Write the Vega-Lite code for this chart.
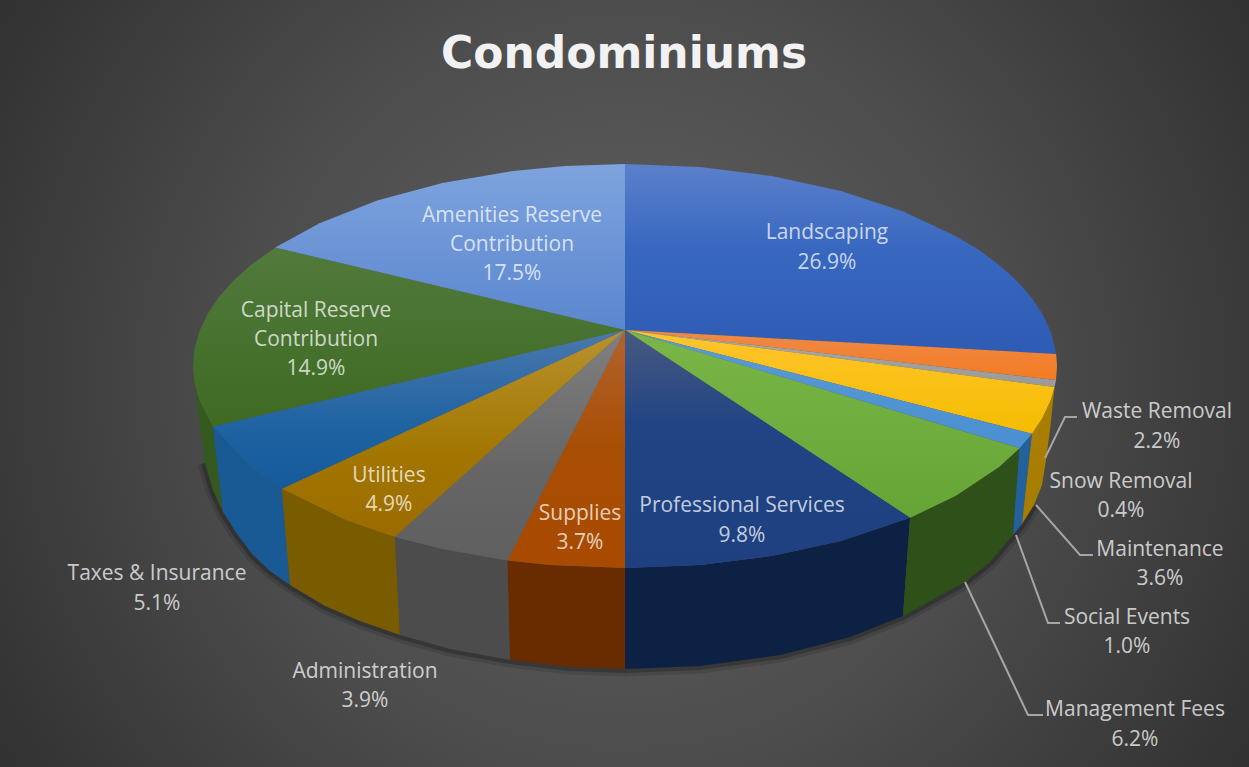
{
  "$schema": "https://vega.github.io/schema/vega-lite/v6.json",
  "width": 1249,
  "height": 767,
  "padding": 0,
  "autosize": {"type": "fit", "contains": "padding"},
  "background": "#2b2b2b",
  "config": {"view": {"stroke": null}, "font": "Open Sans"},
  "datasets": {
    "backdrop": [{"x": 0, "x2": 1249, "y": 0, "y2": 767}],
    "topFace": [
      {"slice":"Landscaping","i":0,"x":625,"y":330},{"slice":"Landscaping","i":1,"x":625,"y":164},{"slice":"Landscaping","i":2,"x":700,"y":167.1},{"slice":"Landscaping","i":3,"x":772.7,"y":176.2},{"slice":"Landscaping","i":4,"x":841,"y":191.1},{"slice":"Landscaping","i":5,"x":902.7,"y":211.3},{"slice":"Landscaping","i":6,"x":955.9,"y":236.2},{"slice":"Landscaping","i":7,"x":978.9,"y":250.1},{"slice":"Landscaping","i":8,"x":999.1,"y":265},{"slice":"Landscaping","i":9,"x":1016.5,"y":280.6},{"slice":"Landscaping","i":10,"x":1031,"y":296.9},{"slice":"Landscaping","i":11,"x":1042.3,"y":313.7},{"slice":"Landscaping","i":12,"x":1050.4,"y":330.9},{"slice":"Landscaping","i":13,"x":1056.2,"y":354},
      {"slice":"Waste Removal","i":0,"x":625,"y":330},{"slice":"Waste Removal","i":1,"x":1056.2,"y":354},{"slice":"Waste Removal","i":2,"x":1057,"y":366},{"slice":"Waste Removal","i":3,"x":1056,"y":380.1},
      {"slice":"Snow Removal","i":0,"x":625,"y":330},{"slice":"Snow Removal","i":1,"x":1056,"y":380.1},{"slice":"Snow Removal","i":2,"x":1054.6,"y":387.1},
      {"slice":"Maintenance","i":0,"x":625,"y":330},{"slice":"Maintenance","i":1,"x":1054.6,"y":387.1},{"slice":"Maintenance","i":2,"x":1050.4,"y":401.1},{"slice":"Maintenance","i":3,"x":1042.3,"y":418.3},{"slice":"Maintenance","i":4,"x":1032,"y":433.8},
      {"slice":"Social Events","i":0,"x":625,"y":330},{"slice":"Social Events","i":1,"x":1032,"y":433.8},{"slice":"Social Events","i":2,"x":1019.6,"y":448.2},
      {"slice":"Management Fees","i":0,"x":625,"y":330},{"slice":"Management Fees","i":1,"x":1019.6,"y":448.2},{"slice":"Management Fees","i":2,"x":999.1,"y":467},{"slice":"Management Fees","i":3,"x":955.9,"y":495.8},{"slice":"Management Fees","i":4,"x":910.1,"y":517.8},
      {"slice":"Professional Services","i":0,"x":625,"y":330},{"slice":"Professional Services","i":1,"x":910.1,"y":517.8},{"slice":"Professional Services","i":2,"x":841,"y":540.9},{"slice":"Professional Services","i":3,"x":772.7,"y":555.8},{"slice":"Professional Services","i":4,"x":700,"y":564.9},{"slice":"Professional Services","i":5,"x":625,"y":568},
      {"slice":"Supplies","i":0,"x":625,"y":330},{"slice":"Supplies","i":1,"x":625,"y":568},{"slice":"Supplies","i":2,"x":550,"y":564.9},{"slice":"Supplies","i":3,"x":507.4,"y":560.4},
      {"slice":"Administration","i":0,"x":625,"y":330},{"slice":"Administration","i":1,"x":507.4,"y":560.4},{"slice":"Administration","i":2,"x":442.4,"y":549.1},{"slice":"Administration","i":3,"x":394.8,"y":536.9},
      {"slice":"Utilities","i":0,"x":625,"y":330},{"slice":"Utilities","i":1,"x":394.8,"y":536.9},{"slice":"Utilities","i":2,"x":347.3,"y":520.7},{"slice":"Utilities","i":3,"x":281.8,"y":488.7},
      {"slice":"Taxes & Insurance","i":0,"x":625,"y":330},{"slice":"Taxes & Insurance","i":1,"x":281.8,"y":488.7},{"slice":"Taxes & Insurance","i":2,"x":250.9,"y":467},{"slice":"Taxes & Insurance","i":3,"x":212.8,"y":426.4},
      {"slice":"Capital Reserve Contribution","i":0,"x":625,"y":330},{"slice":"Capital Reserve Contribution","i":1,"x":212.8,"y":426.4},{"slice":"Capital Reserve Contribution","i":2,"x":199.6,"y":401.1},{"slice":"Capital Reserve Contribution","i":3,"x":194.6,"y":383.6},{"slice":"Capital Reserve Contribution","i":4,"x":193,"y":366},{"slice":"Capital Reserve Contribution","i":5,"x":194.6,"y":348.4},{"slice":"Capital Reserve Contribution","i":6,"x":199.6,"y":330.9},{"slice":"Capital Reserve Contribution","i":7,"x":207.7,"y":313.7},{"slice":"Capital Reserve Contribution","i":8,"x":219,"y":296.9},{"slice":"Capital Reserve Contribution","i":9,"x":233.5,"y":280.6},{"slice":"Capital Reserve Contribution","i":10,"x":250.9,"y":265},{"slice":"Capital Reserve Contribution","i":11,"x":275.2,"y":247.5},
      {"slice":"Amenities Reserve Contribution","i":0,"x":625,"y":330},{"slice":"Amenities Reserve Contribution","i":1,"x":275.2,"y":247.5},{"slice":"Amenities Reserve Contribution","i":2,"x":319.5,"y":223.2},{"slice":"Amenities Reserve Contribution","i":3,"x":377.2,"y":200.5},{"slice":"Amenities Reserve Contribution","i":4,"x":442.4,"y":182.9},{"slice":"Amenities Reserve Contribution","i":5,"x":513.2,"y":170.9},{"slice":"Amenities Reserve Contribution","i":6,"x":564.9,"y":166},{"slice":"Amenities Reserve Contribution","i":7,"x":625,"y":164}
    ],
    "sideWall": [
      {"slice":"Capital Reserve Contribution","i":0,"x":193,"y":360},{"slice":"Capital Reserve Contribution","i":1,"x":194.6,"y":383.6},{"slice":"Capital Reserve Contribution","i":2,"x":199.6,"y":401.1},{"slice":"Capital Reserve Contribution","i":3,"x":212.8,"y":426.4},{"slice":"Capital Reserve Contribution","i":4,"x":223,"y":512},{"slice":"Capital Reserve Contribution","i":5,"x":213,"y":490},{"slice":"Capital Reserve Contribution","i":6,"x":205,"y":463},{"slice":"Capital Reserve Contribution","i":7,"x":198,"y":413},{"slice":"Capital Reserve Contribution","i":8,"x":195,"y":373},
      {"slice":"Taxes & Insurance","i":0,"x":212.8,"y":426.4},{"slice":"Taxes & Insurance","i":1,"x":250.9,"y":467},{"slice":"Taxes & Insurance","i":2,"x":281.8,"y":488.7},{"slice":"Taxes & Insurance","i":3,"x":290,"y":585},{"slice":"Taxes & Insurance","i":4,"x":270,"y":571},{"slice":"Taxes & Insurance","i":5,"x":253,"y":555},{"slice":"Taxes & Insurance","i":6,"x":237,"y":534},{"slice":"Taxes & Insurance","i":7,"x":223,"y":512},
      {"slice":"Utilities","i":0,"x":281.8,"y":488.7},{"slice":"Utilities","i":1,"x":347.3,"y":520.7},{"slice":"Utilities","i":2,"x":394.8,"y":536.9},{"slice":"Utilities","i":3,"x":400,"y":635},{"slice":"Utilities","i":4,"x":360,"y":621},{"slice":"Utilities","i":5,"x":325,"y":606},{"slice":"Utilities","i":6,"x":290,"y":585},
      {"slice":"Administration","i":0,"x":394.8,"y":536.9},{"slice":"Administration","i":1,"x":442.4,"y":549.1},{"slice":"Administration","i":2,"x":507.4,"y":560.4},{"slice":"Administration","i":3,"x":510,"y":660},{"slice":"Administration","i":4,"x":450,"y":649},{"slice":"Administration","i":5,"x":400,"y":635},
      {"slice":"Supplies","i":0,"x":507.4,"y":560.4},{"slice":"Supplies","i":1,"x":550,"y":564.9},{"slice":"Supplies","i":2,"x":625,"y":568},{"slice":"Supplies","i":3,"x":625,"y":669},{"slice":"Supplies","i":4,"x":570,"y":667},{"slice":"Supplies","i":5,"x":510,"y":660},
      {"slice":"Professional Services","i":0,"x":625,"y":568},{"slice":"Professional Services","i":1,"x":700,"y":564.9},{"slice":"Professional Services","i":2,"x":772.7,"y":555.8},{"slice":"Professional Services","i":3,"x":841,"y":540.9},{"slice":"Professional Services","i":4,"x":910.1,"y":517.8},{"slice":"Professional Services","i":5,"x":903,"y":616},{"slice":"Professional Services","i":6,"x":850,"y":637},{"slice":"Professional Services","i":7,"x":780,"y":655},{"slice":"Professional Services","i":8,"x":700,"y":666},{"slice":"Professional Services","i":9,"x":625,"y":669},
      {"slice":"Management Fees","i":0,"x":910.1,"y":517.8},{"slice":"Management Fees","i":1,"x":955.9,"y":495.8},{"slice":"Management Fees","i":2,"x":999.1,"y":467},{"slice":"Management Fees","i":3,"x":1019.6,"y":448.2},{"slice":"Management Fees","i":4,"x":1013,"y":535},{"slice":"Management Fees","i":5,"x":990,"y":562},{"slice":"Management Fees","i":6,"x":965,"y":582},{"slice":"Management Fees","i":7,"x":903,"y":616},
      {"slice":"Social Events","i":0,"x":1019.6,"y":448.2},{"slice":"Social Events","i":1,"x":1032,"y":433.8},{"slice":"Social Events","i":2,"x":1022,"y":524},{"slice":"Social Events","i":3,"x":1013,"y":535},
      {"slice":"Maintenance","i":0,"x":1032,"y":433.8},{"slice":"Maintenance","i":1,"x":1042.3,"y":418.3},{"slice":"Maintenance","i":2,"x":1050.4,"y":401.1},{"slice":"Maintenance","i":3,"x":1054.6,"y":387.1},{"slice":"Maintenance","i":4,"x":1050,"y":430},{"slice":"Maintenance","i":5,"x":1046,"y":460},{"slice":"Maintenance","i":6,"x":1042,"y":485},{"slice":"Maintenance","i":7,"x":1034,"y":505},{"slice":"Maintenance","i":8,"x":1022,"y":524}
    ],
    "lowerEdge": [
      {"i":2,"x":205,"y":463},{"i":3,"x":213,"y":490},{"i":4,"x":223,"y":512},{"i":5,"x":237,"y":534},{"i":6,"x":253,"y":555},{"i":7,"x":270,"y":571},{"i":8,"x":290,"y":585},{"i":9,"x":325,"y":606},{"i":10,"x":360,"y":621},{"i":11,"x":400,"y":635},{"i":12,"x":450,"y":649},{"i":13,"x":510,"y":660},{"i":14,"x":570,"y":667},{"i":15,"x":625,"y":669},{"i":16,"x":700,"y":666},{"i":17,"x":780,"y":655},{"i":18,"x":850,"y":637},{"i":19,"x":903,"y":616},{"i":20,"x":965,"y":582},{"i":21,"x":990,"y":562},{"i":22,"x":1013,"y":535},{"i":23,"x":1022,"y":524},{"i":24,"x":1034,"y":505}
    ],
    "leaders": [
      {"slice":"Waste Removal","i":0,"x":1045,"y":458},{"slice":"Waste Removal","i":1,"x":1065,"y":417},{"slice":"Waste Removal","i":2,"x":1077,"y":417},
      {"slice":"Maintenance","i":0,"x":1036,"y":505},{"slice":"Maintenance","i":1,"x":1080,"y":555},{"slice":"Maintenance","i":2,"x":1093,"y":555},
      {"slice":"Social Events","i":0,"x":1016,"y":535},{"slice":"Social Events","i":1,"x":1048,"y":623},{"slice":"Social Events","i":2,"x":1060,"y":623},
      {"slice":"Management Fees","i":0,"x":965,"y":582},{"slice":"Management Fees","i":1,"x":1028,"y":715},{"slice":"Management Fees","i":2,"x":1043,"y":715}
    ],
    "sliceNames": [
      {"line":"Landscaping","x":827,"y":233},
      {"line":"Amenities Reserve","x":512,"y":216},{"line":"Contribution","x":512,"y":245},
      {"line":"Capital Reserve","x":316,"y":311},{"line":"Contribution","x":316,"y":340},
      {"line":"Utilities","x":389,"y":476},
      {"line":"Supplies","x":580,"y":514},
      {"line":"Professional Services","x":742,"y":506},
      {"line":"Taxes & Insurance","x":157,"y":574},
      {"line":"Administration","x":365,"y":672},
      {"line":"Waste Removal","x":1157,"y":412},
      {"line":"Snow Removal","x":1121,"y":482},
      {"line":"Maintenance","x":1160,"y":550},
      {"line":"Social Events","x":1127,"y":618},
      {"line":"Management Fees","x":1135,"y":710}
    ],
    "sliceShares": [
      {"slice":"Landscaping","share":0.269,"x":827,"y":263},
      {"slice":"Waste Removal","share":0.022,"x":1157,"y":442},
      {"slice":"Snow Removal","share":0.004,"x":1121,"y":511},
      {"slice":"Maintenance","share":0.036,"x":1160,"y":579},
      {"slice":"Social Events","share":0.010,"x":1127,"y":647},
      {"slice":"Management Fees","share":0.062,"x":1135,"y":740},
      {"slice":"Professional Services","share":0.098,"x":742,"y":536},
      {"slice":"Supplies","share":0.037,"x":580,"y":543},
      {"slice":"Administration","share":0.039,"x":365,"y":701},
      {"slice":"Utilities","share":0.049,"x":389,"y":505},
      {"slice":"Taxes & Insurance","share":0.051,"x":157,"y":604},
      {"slice":"Capital Reserve Contribution","share":0.149,"x":316,"y":369},
      {"slice":"Amenities Reserve Contribution","share":0.175,"x":512,"y":274}
    ],
    "chartTitle": [{"title":"Condominiums","x":624,"y":55}]
  },
  "encoding": {
    "x": {"field": "x", "type": "quantitative", "axis": null, "scale": {"domain": [0, 1249], "nice": false, "zero": false}},
    "y": {"field": "y", "type": "quantitative", "axis": null, "scale": {"domain": [767, 0], "nice": false, "zero": false}}
  },
  "layer": [
    {
      "data": {"name": "backdrop"},
      "mark": {"type": "rect", "fill": {"gradient": "radial", "x1": 0.5, "y1": 0.5, "r1": 0, "x2": 0.5, "y2": 0.5, "r2": 0.7, "stops": [{"offset": 0, "color": "#626262"}, {"offset": 0.45, "color": "#4c4c4c"}, {"offset": 1, "color": "#262626"}]}},
      "encoding": {"x2": {"field": "x2"}, "y2": {"field": "y2"}}
    },
    {
      "data": {"name": "lowerEdge"},
      "mark": {"type": "line", "stroke": "#000000", "strokeWidth": 15, "opacity": 0.12},
      "encoding": {"order": {"field": "i"}}
    },
    {
      "data": {"name": "lowerEdge"},
      "mark": {"type": "line", "stroke": "#000000", "strokeWidth": 8, "opacity": 0.22},
      "encoding": {"order": {"field": "i"}}
    },
    {
      "data": {"name": "sideWall"},
      "mark": {"type": "line", "filled": true, "strokeWidth": 0},
      "encoding": {
        "order": {"field": "i"},
        "fill": {"field": "slice", "type": "nominal", "legend": null, "scale": {
          "domain": ["Capital Reserve Contribution", "Taxes & Insurance", "Utilities", "Administration", "Supplies", "Professional Services", "Management Fees", "Social Events", "Maintenance"],
          "range": ["#345a1f", "#1a5a94", "#7a5c00", "#4c4c4c", "#692b00", "#0d2144", "#2e5019", "#22619c", "#a87e00"]
        }}
      }
    },
    {"data": {"name": "topFace"}, "transform": [{"filter": {"field": "slice", "equal": "Landscaping"}}], "mark": {"type": "line", "filled": true, "strokeWidth": 0, "fill": {"gradient": "linear", "x1": 0, "y1": 0, "x2": 0, "y2": 1, "stops": [{"offset": 0, "color": "#5b80cb"}, {"offset": 0.45, "color": "#3867c0"}, {"offset": 1, "color": "#2e5cb5"}]}}, "encoding": {"order": {"field": "i"}}},
    {"data": {"name": "topFace"}, "transform": [{"filter": {"field": "slice", "equal": "Waste Removal"}}], "mark": {"type": "line", "filled": true, "strokeWidth": 0, "fill": {"gradient": "linear", "x1": 0, "y1": 0, "x2": 0, "y2": 1, "stops": [{"offset": 0, "color": "#ee8a48"}, {"offset": 1, "color": "#f47b22"}]}}, "encoding": {"order": {"field": "i"}}},
    {"data": {"name": "topFace"}, "transform": [{"filter": {"field": "slice", "equal": "Snow Removal"}}], "mark": {"type": "line", "filled": true, "strokeWidth": 0, "fill": {"gradient": "linear", "x1": 0, "y1": 0, "x2": 0, "y2": 1, "stops": [{"offset": 0, "color": "#a9a9a9"}, {"offset": 1, "color": "#9a9a9a"}]}}, "encoding": {"order": {"field": "i"}}},
    {"data": {"name": "topFace"}, "transform": [{"filter": {"field": "slice", "equal": "Maintenance"}}], "mark": {"type": "line", "filled": true, "strokeWidth": 0, "fill": {"gradient": "linear", "x1": 0, "y1": 0, "x2": 0, "y2": 1, "stops": [{"offset": 0, "color": "#ffc52e"}, {"offset": 1, "color": "#f5bc00"}]}}, "encoding": {"order": {"field": "i"}}},
    {"data": {"name": "topFace"}, "transform": [{"filter": {"field": "slice", "equal": "Social Events"}}], "mark": {"type": "line", "filled": true, "strokeWidth": 0, "fill": {"gradient": "linear", "x1": 0, "y1": 0, "x2": 0, "y2": 1, "stops": [{"offset": 0, "color": "#5b9bd5"}, {"offset": 1, "color": "#4a8fd0"}]}}, "encoding": {"order": {"field": "i"}}},
    {"data": {"name": "topFace"}, "transform": [{"filter": {"field": "slice", "equal": "Management Fees"}}], "mark": {"type": "line", "filled": true, "strokeWidth": 0, "fill": {"gradient": "linear", "x1": 0, "y1": 0, "x2": 0, "y2": 1, "stops": [{"offset": 0, "color": "#7ab648"}, {"offset": 1, "color": "#65a535"}]}}, "encoding": {"order": {"field": "i"}}},
    {"data": {"name": "topFace"}, "transform": [{"filter": {"field": "slice", "equal": "Professional Services"}}], "mark": {"type": "line", "filled": true, "strokeWidth": 0, "fill": {"gradient": "linear", "x1": 0, "y1": 0, "x2": 0, "y2": 1, "stops": [{"offset": 0, "color": "#485980"}, {"offset": 0.4, "color": "#204484"}, {"offset": 1, "color": "#1e4080"}]}}, "encoding": {"order": {"field": "i"}}},
    {"data": {"name": "topFace"}, "transform": [{"filter": {"field": "slice", "equal": "Supplies"}}], "mark": {"type": "line", "filled": true, "strokeWidth": 0, "fill": {"gradient": "linear", "x1": 0, "y1": 0, "x2": 0, "y2": 1, "stops": [{"offset": 0, "color": "#b3622e"}, {"offset": 0.5, "color": "#a84e04"}, {"offset": 1, "color": "#a84a00"}]}}, "encoding": {"order": {"field": "i"}}},
    {"data": {"name": "topFace"}, "transform": [{"filter": {"field": "slice", "equal": "Administration"}}], "mark": {"type": "line", "filled": true, "strokeWidth": 0, "fill": {"gradient": "linear", "x1": 0, "y1": 0, "x2": 0, "y2": 1, "stops": [{"offset": 0, "color": "#808080"}, {"offset": 0.6, "color": "#666666"}, {"offset": 1, "color": "#5f5f5f"}]}}, "encoding": {"order": {"field": "i"}}},
    {"data": {"name": "topFace"}, "transform": [{"filter": {"field": "slice", "equal": "Utilities"}}], "mark": {"type": "line", "filled": true, "strokeWidth": 0, "fill": {"gradient": "linear", "x1": 0, "y1": 0, "x2": 0, "y2": 1, "stops": [{"offset": 0, "color": "#b8922e"}, {"offset": 0.6, "color": "#a27600"}, {"offset": 1, "color": "#9a6c00"}]}}, "encoding": {"order": {"field": "i"}}},
    {"data": {"name": "topFace"}, "transform": [{"filter": {"field": "slice", "equal": "Taxes & Insurance"}}], "mark": {"type": "line", "filled": true, "strokeWidth": 0, "fill": {"gradient": "linear", "x1": 0, "y1": 0, "x2": 0, "y2": 1, "stops": [{"offset": 0, "color": "#4a78ad"}, {"offset": 0.6, "color": "#1f63a2"}, {"offset": 1, "color": "#155a9c"}]}}, "encoding": {"order": {"field": "i"}}},
    {"data": {"name": "topFace"}, "transform": [{"filter": {"field": "slice", "equal": "Capital Reserve Contribution"}}], "mark": {"type": "line", "filled": true, "strokeWidth": 0, "fill": {"gradient": "linear", "x1": 0, "y1": 0, "x2": 0, "y2": 1, "stops": [{"offset": 0, "color": "#517a3c"}, {"offset": 1, "color": "#3e6a22"}]}}, "encoding": {"order": {"field": "i"}}},
    {"data": {"name": "topFace"}, "transform": [{"filter": {"field": "slice", "equal": "Amenities Reserve Contribution"}}], "mark": {"type": "line", "filled": true, "strokeWidth": 0, "fill": {"gradient": "linear", "x1": 0, "y1": 0, "x2": 0, "y2": 1, "stops": [{"offset": 0, "color": "#7ea3de"}, {"offset": 1, "color": "#5b87cf"}]}}, "encoding": {"order": {"field": "i"}}},
    {
      "data": {"name": "leaders"},
      "mark": {"type": "line", "stroke": "#a6a6a6", "strokeWidth": 2},
      "encoding": {"order": {"field": "i"}, "detail": {"field": "slice"}}
    },
    {
      "data": {"name": "sliceNames"},
      "mark": {"type": "text", "fontSize": 21, "align": "center", "baseline": "middle", "fill": "#ffffff", "fillOpacity": 0.74, "font": "Open Sans"},
      "encoding": {"text": {"field": "line"}}
    },
    {
      "data": {"name": "sliceShares"},
      "mark": {"type": "text", "fontSize": 21, "align": "center", "baseline": "middle", "fill": "#ffffff", "fillOpacity": 0.74, "font": "Open Sans"},
      "encoding": {"text": {"field": "share", "format": ".1%"}}
    },
    {
      "data": {"name": "chartTitle"},
      "mark": {"type": "text", "fontSize": 44, "fontWeight": "bold", "align": "center", "baseline": "middle", "fill": "#f2f2f2", "font": "DejaVu Sans"},
      "encoding": {"text": {"field": "title"}}
    }
  ]
}
